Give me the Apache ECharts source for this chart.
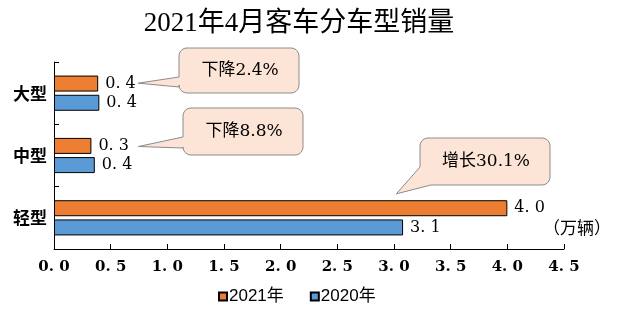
<!DOCTYPE html>
<html><head><meta charset="utf-8">
<script src="https://cdn.jsdelivr.net/npm/echarts@6/dist/echarts.min.js"></script>
<style>html,body{margin:0;padding:0;background:#fff}#c{width:636px;height:330px}</style>
</head><body><div id="c"></div>
<script>
const categories = ['轻型', '中型', '大型'];
const series2021 = [4.0, 0.33, 0.39];
const series2020 = [3.08, 0.36, 0.40];
const seriesNames = ['2021年', '2020年'];
const xTicks = [0, 0.5, 1, 1.5, 2, 2.5, 3, 3.5, 4, 4.5];
const callouts = [
  { cat: '大型', value: 0.39, text: '下降2.4%' },
  { cat: '中型', value: 0.33, text: '下降8.8%' },
  { cat: '轻型', value: 4.0, text: '增长30.1%' }
];
const unitText = '（万辆）';

const serif = '"DejaVu Serif","Noto Sans CJK SC",serif';
const serif2 = '"Liberation Serif","Noto Sans CJK SC",serif';
const chart = echarts.init(document.getElementById('c'));
const labelCfg = {
  show: true, position: 'right', distance: 7, color: '#000',
  fontFamily: serif, fontSize: 16,
  formatter: p => p.value.toFixed(1).replace('.', '. ')
};
const option = {
  animation: false,
  backgroundColor: '#fff',
  title: {
    text: '2021年4月客车分车型销量', left: 294, top: 5, textAlign: 'center',
    textStyle: { fontFamily: serif2, fontSize: 27, fontWeight: 'normal', color: '#000' }
  },
  legend: {
    data: seriesNames, top: 283, left: 213, itemWidth: 8, itemHeight: 8, itemGap: 26,
    icon: 'rect',
    textStyle: { fontFamily: '"Liberation Sans","Noto Sans CJK SC",sans-serif', fontSize: 17, color: '#000', padding: [0,0,0,-3] }
  },
  grid: { left: 54, right: 72, top: 62, bottom: 81 },
  xAxis: {
    type: 'value', min: 0, max: 4.5, interval: 0.5,
    axisLine: { show: true, lineStyle: { color: '#000', width: 1 } },
    axisTick: { show: true, inside: true, length: 5, lineStyle: { color: '#000' } },
    splitLine: { show: false },
    axisLabel: {
      margin: 11, color: '#000', fontFamily: serif, fontSize: 15, fontWeight: 'bold',
      formatter: v => v.toFixed(1).replace('.', '. ')
    }
  },
  yAxis: {
    type: 'category', data: categories,
    axisLine: { show: true, lineStyle: { color: '#000', width: 1 } },
    axisTick: { show: true, inside: true, length: 5, lineStyle: { color: '#000' } },
    axisLabel: { margin: 7, color: '#000', fontFamily: '"Noto Sans CJK SC",sans-serif', fontSize: 17, fontWeight: 'bold' }
  },
  series: [
    { name: seriesNames[0], type: 'bar', data: series2021, barWidth: 16, barGap: '20%',
      itemStyle: { color: '#ED7D31', borderColor: '#000', borderWidth: 1 }, label: labelCfg },
    { name: seriesNames[1], type: 'bar', data: series2020, barWidth: 16, barGap: '20%',
      itemStyle: { color: '#5B9BD5', borderColor: '#000', borderWidth: 1 }, label: labelCfg }
  ]
};
chart.setOption(option);

function arc(cx, cy, r, a0, a1) {
  const pts = [];
  for (let k = 0; k <= 6; k++) {
    const a = a0 + (a1 - a0) * k / 6;
    pts.push([cx + r * Math.cos(a), cy + r * Math.sin(a)]);
  }
  return pts;
}
function calloutPoints(L, T, W, H, r, tip, p1, p2, side) {
  const R = L + W, B = T + H, P = Math.PI;
  let pts = [];
  pts = pts.concat(arc(R - r, T + r, r, -P / 2, 0));
  pts = pts.concat(arc(R - r, B - r, r, 0, P / 2));
  if (side === 'left') {
    pts = pts.concat(arc(L + r, B - r, r, P / 2, P));
    pts.push(p2, tip, p1);
  } else {
    pts.push(p2, tip, p1);
  }
  pts = pts.concat(arc(L + r, T + r, r, P, 1.5 * P));
  return pts;
}

const geo = [
  { dx: 40, dy: -10, box: [179, 48, 120, 45], p1: [179, 77], p2: [179, 87], side: 'left' },
  { dx: 47, dy: -9, box: [183, 108, 120, 47], p1: [183, 137], p2: [183, 148], side: 'left' },
  { dx: -111, dy: -24, box: [420, 138, 130, 47], p1: [420, 167], p2: [431, 185], side: 'corner' }
];
const graphics = [];
callouts.forEach((c, i) => {
  const px = chart.convertToPixel({ gridIndex: 0 }, [c.value, c.cat]);
  const g = geo[i];
  const tip = [px[0] + g.dx, px[1] + g.dy];
  const [L, T, W, H] = g.box;
  graphics.push({
    type: 'polygon', z: 10,
    shape: { points: calloutPoints(L, T, W, H, 8, tip, g.p1, g.p2, g.side) },
    style: { fill: '#FCE4D6', stroke: '#8c8c8c', lineWidth: 1 }
  });
  graphics.push({
    type: 'text', z: 11, x: L + W / 2 + 1, y: T + H / 2,
    style: { text: c.text, fill: '#000', font: '17px ' + serif, textAlign: 'center', textVerticalAlign: 'middle' }
  });
});
const gr = chart.convertToPixel({ gridIndex: 0 }, [4.5, '轻型']);
graphics.push({
  type: 'text', x: gr[0] + 13, y: gr[1] + 12,
  style: { text: unitText, fill: '#000', font: '17px ' + serif2, textAlign: 'center', textVerticalAlign: 'middle' }
});
chart.setOption({ graphic: graphics });
</script></body></html>
